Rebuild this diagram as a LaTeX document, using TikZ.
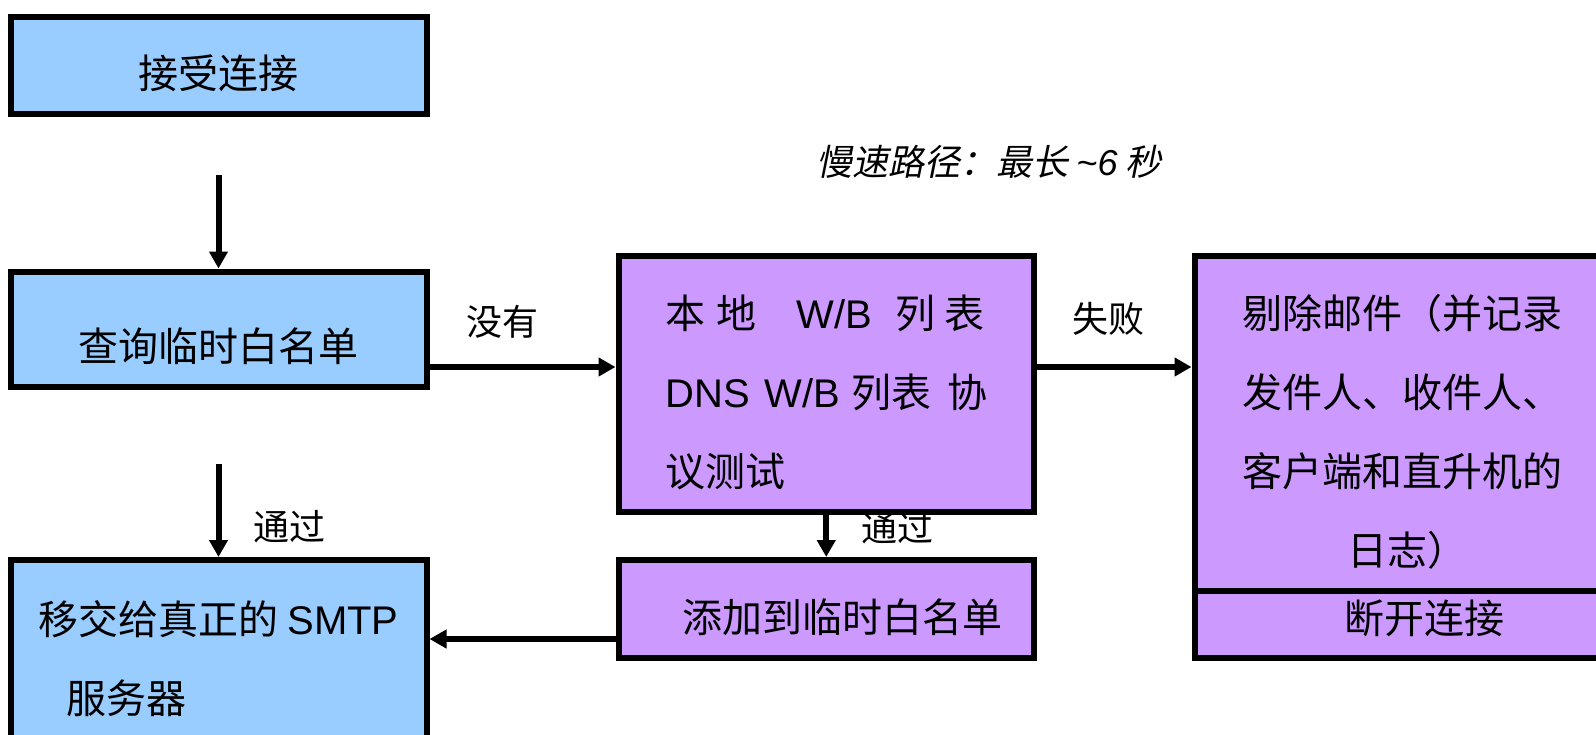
\documentclass[tikz,border=0pt]{standalone}
\usepackage{fontspec}
\setmainfont{Noto Sans CJK SC}
\newfontfamily\lat{Liberation Sans}
\newfontfamily\cjkit{Noto Sans CJK SC}[FakeSlant=0.2]
\usetikzlibrary{arrows.meta,positioning}
\definecolor{fastblue}{HTML}{99CCFF}
\definecolor{slowpurple}{HTML}{CC99FF}
\tikzset{
  box/.style={draw, line width=3pt, inner sep=0pt, font=\fontsize{20pt}{39.5pt}\selectfont, minimum width=208pt},
  fast/.style={box, fill=fastblue},
  slow/.style={box, fill=slowpurple, minimum width=207.75pt},
  arr/.style={-{Triangle[length=8.5pt,width=9pt]}, line width=3pt},
  lbl/.style={font=\fontsize{18pt}{20pt}\selectfont, inner sep=0pt}}

\begin{document}
\begin{tikzpicture}[x=0.5pt, y=-0.5pt]
  \useasboundingbox (0,0) rectangle (1596,734);
  \clip (0,0) rectangle (1596,734);
  % fast path
  \node[fast, minimum height=48.75pt, text height=25.8pt, text depth=2.4pt] (accept) at (218.5,65.25) {接受连接};
  \node[fast, minimum height=57.5pt, text height=35.1pt, text depth=2.4pt, below=75.75pt of accept] (query) {查询临时白名单};
  \node[fast, minimum height=96.1pt, align=left] (smtp) at (218.5,656.1) {\rule{0pt}{20pt}移交给真正的 {\lat SMTP}\\\hspace*{14.25pt}服务器};
  \draw[arr] ([yshift=-29pt]accept.south) -- (query);
  \draw[arr] ([yshift=-37pt]query.south) -- (smtp);
  \node[lbl] (pass1) at (289,527) {通过};
  % slow path
  \node[lbl] (slowttl) at (989,162) {{\cjkit 慢速路径：最长} {\lat\itshape\textasciitilde6} {\cjkit 秒}};
  \node[slow, minimum height=127.75pt, align=left] (lists) at (826.25,383.75)
    {\rule{0pt}{25.8pt}本\hspace{5.5pt}地\hspace{20pt}{\lat W/B}\hspace{11.7pt}列\hspace{4.5pt}表\\
     {\lat DNS}\hspace{7.3pt}{\lat W/B}\hspace{5.7pt}列表\hspace{8pt}协\\
     议测试};
  \node[slow, minimum height=49pt, text height=26.1pt, text depth=2.4pt, below=21.25pt of lists] (addtmp) {\hspace*{16.6pt}添加到临时白名单};
  \node[slow, minimum width=215.25pt, minimum height=167.75pt, text width=167.75pt, align=left] (reject) at (1409.75,423.25)
    {\rule{0pt}{25.8pt}剔除邮件（并记录\\
     发件人、收件人、\\
     客户端和直升机的\\
     \hspace*{52.5pt}日志）};
  \node[slow, minimum width=215.25pt, minimum height=33.5pt, text height=11.4pt, text depth=2.4pt, below=-3pt of reject] (hangup) {\hspace*{15pt}断开连接};
  \coordinate (nohit) at ([yshift=-19pt]query.east);
  \coordinate (back) at ([yshift=-15pt]addtmp.west);
  \draw[arr] (nohit) -- (nohit -| lists.west);
  \draw[arr] (nohit -| lists.east) -- (nohit -| reject.west);
  \draw[arr] (lists) -- (addtmp);
  \draw[arr] (back) -- (back -| smtp.east);
  \node[lbl] (nolbl) at (502.5,322) {没有};
  \node[lbl] (faillbl) at (1108,319) {失败};
  \node[lbl] (pass2) at (897,528) {通过};
\end{tikzpicture}
\end{document}
